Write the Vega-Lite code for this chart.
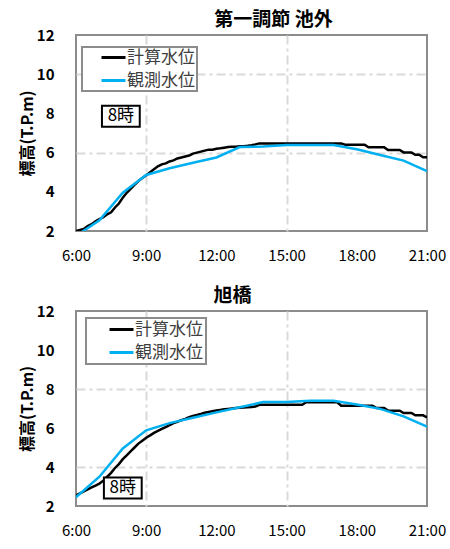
{
  "$schema": "https://vega.github.io/schema/vega-lite/v6.json",
  "background": "white",
  "padding": {"left": 18, "top": 10, "right": 5, "bottom": 5},
  "config": {
    "font": "Noto Sans CJK JP",
    "view": {"stroke": "#8c8c8c", "strokeWidth": 2},
    "title": {"fontSize": 19, "fontWeight": "bold", "color": "#000000", "offset": -2, "frame": "group"},
    "axis": {"domain": false, "ticks": false, "labelOverlap": false, "labelColor": "#000000", "titleColor": "#000000", "gridColor": "#d9d9d9", "gridWidth": 2, "gridDash": [9, 4, 3, 4]},
    "concat": {"spacing": 22}
  },
  "datasets": {
    "daiichi": [
      {"s": "計算水位", "m": 360, "v": 2.00}, {"s": "計算水位", "m": 370, "v": 2.05}, {"s": "計算水位", "m": 380, "v": 2.10},
      {"s": "計算水位", "m": 390, "v": 2.25}, {"s": "計算水位", "m": 400, "v": 2.35}, {"s": "計算水位", "m": 410, "v": 2.50},
      {"s": "計算水位", "m": 420, "v": 2.60}, {"s": "計算水位", "m": 430, "v": 2.70}, {"s": "計算水位", "m": 440, "v": 2.85},
      {"s": "計算水位", "m": 450, "v": 2.95}, {"s": "計算水位", "m": 460, "v": 3.20}, {"s": "計算水位", "m": 470, "v": 3.40},
      {"s": "計算水位", "m": 480, "v": 3.70}, {"s": "計算水位", "m": 490, "v": 3.95}, {"s": "計算水位", "m": 500, "v": 4.15},
      {"s": "計算水位", "m": 510, "v": 4.35}, {"s": "計算水位", "m": 520, "v": 4.55}, {"s": "計算水位", "m": 530, "v": 4.70},
      {"s": "計算水位", "m": 540, "v": 4.85}, {"s": "計算水位", "m": 550, "v": 5.00}, {"s": "計算水位", "m": 560, "v": 5.15},
      {"s": "計算水位", "m": 570, "v": 5.30}, {"s": "計算水位", "m": 580, "v": 5.40}, {"s": "計算水位", "m": 590, "v": 5.45},
      {"s": "計算水位", "m": 600, "v": 5.55}, {"s": "計算水位", "m": 610, "v": 5.60}, {"s": "計算水位", "m": 620, "v": 5.70},
      {"s": "計算水位", "m": 630, "v": 5.75}, {"s": "計算水位", "m": 640, "v": 5.80}, {"s": "計算水位", "m": 650, "v": 5.85},
      {"s": "計算水位", "m": 660, "v": 5.95}, {"s": "計算水位", "m": 670, "v": 6.00}, {"s": "計算水位", "m": 680, "v": 6.05},
      {"s": "計算水位", "m": 690, "v": 6.10}, {"s": "計算水位", "m": 700, "v": 6.15}, {"s": "計算水位", "m": 710, "v": 6.15},
      {"s": "計算水位", "m": 720, "v": 6.20}, {"s": "計算水位", "m": 730, "v": 6.22}, {"s": "計算水位", "m": 740, "v": 6.25},
      {"s": "計算水位", "m": 750, "v": 6.28}, {"s": "計算水位", "m": 760, "v": 6.30}, {"s": "計算水位", "m": 770, "v": 6.30},
      {"s": "計算水位", "m": 780, "v": 6.32}, {"s": "計算水位", "m": 790, "v": 6.33}, {"s": "計算水位", "m": 800, "v": 6.35},
      {"s": "計算水位", "m": 810, "v": 6.38}, {"s": "計算水位", "m": 820, "v": 6.42}, {"s": "計算水位", "m": 830, "v": 6.47},
      {"s": "計算水位", "m": 900, "v": 6.47}, {"s": "計算水位", "m": 960, "v": 6.47}, {"s": "計算水位", "m": 1040, "v": 6.47},
      {"s": "計算水位", "m": 1050, "v": 6.40}, {"s": "計算水位", "m": 1100, "v": 6.40}, {"s": "計算水位", "m": 1110, "v": 6.27},
      {"s": "計算水位", "m": 1150, "v": 6.27}, {"s": "計算水位", "m": 1160, "v": 6.13}, {"s": "計算水位", "m": 1190, "v": 6.13},
      {"s": "計算水位", "m": 1200, "v": 6.01}, {"s": "計算水位", "m": 1220, "v": 6.01}, {"s": "計算水位", "m": 1230, "v": 5.89},
      {"s": "計算水位", "m": 1240, "v": 5.89}, {"s": "計算水位", "m": 1250, "v": 5.76}, {"s": "計算水位", "m": 1260, "v": 5.76},
      {"s": "観測水位", "m": 360, "v": 1.75}, {"s": "観測水位", "m": 420, "v": 2.55}, {"s": "観測水位", "m": 480, "v": 3.95},
      {"s": "観測水位", "m": 540, "v": 4.86}, {"s": "観測水位", "m": 600, "v": 5.20}, {"s": "観測水位", "m": 660, "v": 5.48},
      {"s": "観測水位", "m": 720, "v": 5.75}, {"s": "観測水位", "m": 780, "v": 6.28}, {"s": "観測水位", "m": 840, "v": 6.31},
      {"s": "観測水位", "m": 900, "v": 6.39}, {"s": "観測水位", "m": 960, "v": 6.39}, {"s": "観測水位", "m": 1020, "v": 6.39},
      {"s": "観測水位", "m": 1080, "v": 6.17}, {"s": "観測水位", "m": 1140, "v": 5.88}, {"s": "観測水位", "m": 1200, "v": 5.59},
      {"s": "観測水位", "m": 1260, "v": 5.05}
    ],
    "asahi": [
      {"s": "計算水位", "m": 360, "v": 2.55}, {"s": "計算水位", "m": 370, "v": 2.65}, {"s": "計算水位", "m": 380, "v": 2.75},
      {"s": "計算水位", "m": 390, "v": 2.85}, {"s": "計算水位", "m": 400, "v": 2.95}, {"s": "計算水位", "m": 410, "v": 3.05},
      {"s": "計算水位", "m": 420, "v": 3.15}, {"s": "計算水位", "m": 430, "v": 3.30}, {"s": "計算水位", "m": 440, "v": 3.50},
      {"s": "計算水位", "m": 450, "v": 3.70}, {"s": "計算水位", "m": 460, "v": 3.95}, {"s": "計算水位", "m": 470, "v": 4.15},
      {"s": "計算水位", "m": 480, "v": 4.40}, {"s": "計算水位", "m": 490, "v": 4.60}, {"s": "計算水位", "m": 500, "v": 4.80},
      {"s": "計算水位", "m": 510, "v": 5.00}, {"s": "計算水位", "m": 520, "v": 5.20}, {"s": "計算水位", "m": 530, "v": 5.35},
      {"s": "計算水位", "m": 540, "v": 5.50}, {"s": "計算水位", "m": 550, "v": 5.62}, {"s": "計算水位", "m": 560, "v": 5.75},
      {"s": "計算水位", "m": 570, "v": 5.85}, {"s": "計算水位", "m": 580, "v": 5.95}, {"s": "計算水位", "m": 590, "v": 6.05},
      {"s": "計算水位", "m": 600, "v": 6.15}, {"s": "計算水位", "m": 610, "v": 6.25}, {"s": "計算水位", "m": 620, "v": 6.32},
      {"s": "計算水位", "m": 630, "v": 6.40}, {"s": "計算水位", "m": 640, "v": 6.47}, {"s": "計算水位", "m": 650, "v": 6.55},
      {"s": "計算水位", "m": 660, "v": 6.62}, {"s": "計算水位", "m": 670, "v": 6.67}, {"s": "計算水位", "m": 680, "v": 6.72},
      {"s": "計算水位", "m": 690, "v": 6.78}, {"s": "計算水位", "m": 700, "v": 6.82}, {"s": "計算水位", "m": 710, "v": 6.86},
      {"s": "計算水位", "m": 720, "v": 6.90}, {"s": "計算水位", "m": 730, "v": 6.93}, {"s": "計算水位", "m": 740, "v": 6.96},
      {"s": "計算水位", "m": 750, "v": 6.98}, {"s": "計算水位", "m": 760, "v": 7.00}, {"s": "計算水位", "m": 770, "v": 7.02},
      {"s": "計算水位", "m": 780, "v": 7.04}, {"s": "計算水位", "m": 790, "v": 7.05}, {"s": "計算水位", "m": 800, "v": 7.06},
      {"s": "計算水位", "m": 810, "v": 7.08}, {"s": "計算水位", "m": 820, "v": 7.10}, {"s": "計算水位", "m": 830, "v": 7.19},
      {"s": "計算水位", "m": 900, "v": 7.19}, {"s": "計算水位", "m": 940, "v": 7.19}, {"s": "計算水位", "m": 950, "v": 7.32},
      {"s": "計算水位", "m": 1030, "v": 7.32}, {"s": "計算水位", "m": 1040, "v": 7.14}, {"s": "計算水位", "m": 1120, "v": 7.14},
      {"s": "計算水位", "m": 1130, "v": 7.03}, {"s": "計算水位", "m": 1150, "v": 7.03}, {"s": "計算水位", "m": 1160, "v": 6.89},
      {"s": "計算水位", "m": 1190, "v": 6.89}, {"s": "計算水位", "m": 1200, "v": 6.77}, {"s": "計算水位", "m": 1220, "v": 6.77},
      {"s": "計算水位", "m": 1230, "v": 6.65}, {"s": "計算水位", "m": 1250, "v": 6.65}, {"s": "計算水位", "m": 1260, "v": 6.55},
      {"s": "観測水位", "m": 360, "v": 2.45}, {"s": "観測水位", "m": 420, "v": 3.50}, {"s": "観測水位", "m": 480, "v": 4.95},
      {"s": "観測水位", "m": 540, "v": 5.88}, {"s": "観測水位", "m": 600, "v": 6.25}, {"s": "観測水位", "m": 660, "v": 6.53},
      {"s": "観測水位", "m": 720, "v": 6.80}, {"s": "観測水位", "m": 780, "v": 7.06}, {"s": "観測水位", "m": 840, "v": 7.33},
      {"s": "観測水位", "m": 900, "v": 7.33}, {"s": "観測水位", "m": 960, "v": 7.40}, {"s": "観測水位", "m": 1020, "v": 7.40},
      {"s": "観測水位", "m": 1080, "v": 7.20}, {"s": "観測水位", "m": 1140, "v": 6.98}, {"s": "観測水位", "m": 1200, "v": 6.60},
      {"s": "観測水位", "m": 1260, "v": 6.07}
    ]
  },
  "resolve": {"scale": {"color": "independent"}, "legend": {"color": "independent"}},
  "vconcat": [
    {
      "width": 351,
      "height": 196,
      "title": {"text": "第一調節 池外", "dx": 22},
      "layer": [
        {
          "data": {"name": "daiichi"},
          "mark": {"type": "line", "strokeWidth": 2.5, "clip": true},
          "encoding": {
            "x": {"field": "m", "type": "quantitative", "scale": {"domain": [360, 1260], "nice": false},
              "axis": {"title": null, "values": [360, 540, 720, 900, 1080, 1260], "tickCount": 6, "labelExpr": "floor(datum.value / 60) + ':00'", "labelFontSize": 15, "labelPadding": 17, "labelFlush": false,
                "gridOpacity": {"condition": {"test": "datum.value == 540 || datum.value == 900", "value": 1}, "value": 0}}},
            "y": {"field": "v", "type": "quantitative", "scale": {"domain": [2, 12], "nice": false, "zero": false},
              "axis": {"title": "標高(T.P.m)", "titleFontSize": 16, "titleFontWeight": "bold", "titlePadding": 1, "values": [2, 4, 6, 8, 10, 12], "tickCount": 6, "labelOverlap": false, "labelFontSize": 15, "labelFontWeight": "bold", "labelPadding": 22,
                "gridOpacity": {"condition": {"test": "datum.value == 6 || datum.value == 10", "value": 1}, "value": 0}}},
            "color": {"field": "s", "type": "nominal", "scale": {"domain": ["計算水位", "観測水位"], "range": ["#000000", "#00b0f0"]},
              "legend": {"title": null, "orient": "none", "legendX": 6, "legendY": 12, "strokeColor": "#8c8c8c", "fillColor": "white", "padding": 2, "labelFontSize": 17, "labelColor": "#404040", "labelExpr": "datum.label + '\u2002\u2009'", "symbolType": "M-2,0H2", "symbolStrokeWidth": 3, "symbolSize": 144, "symbolOffset": 21, "labelOffset": 5, "rowPadding": 5,
                "encode": {"legend": {"update": {"strokeWidth": {"value": 2}}}}}}
          }
        },
        {
          "data": {"values": [{"m": 475, "v": 7.85, "label": "8時"}]},
          "mark": {"type": "point", "shape": "M-1.8,-1H1.8V1H-1.8Z", "size": 441, "filled": true, "fill": "white", "stroke": "black", "strokeWidth": 2, "opacity": 1},
          "encoding": {"x": {"field": "m", "type": "quantitative"}, "y": {"field": "v", "type": "quantitative"}}
        },
        {
          "data": {"values": [{"m": 475, "v": 7.85, "label": "8時"}]},
          "mark": {"type": "text", "fontSize": 17, "color": "#000000"},
          "encoding": {"x": {"field": "m", "type": "quantitative"}, "y": {"field": "v", "type": "quantitative"}, "text": {"field": "label"}}
        }
      ]
    },
    {
      "width": 351,
      "height": 195,
      "title": {"text": "旭橋", "dx": -19},
      "layer": [
        {
          "data": {"name": "asahi"},
          "mark": {"type": "line", "strokeWidth": 2.5, "clip": true},
          "encoding": {
            "x": {"field": "m", "type": "quantitative", "scale": {"domain": [360, 1260], "nice": false},
              "axis": {"title": null, "values": [360, 540, 720, 900, 1080, 1260], "tickCount": 6, "labelExpr": "floor(datum.value / 60) + ':00'", "labelFontSize": 15, "labelPadding": 17, "labelFlush": false,
                "gridOpacity": {"condition": {"test": "datum.value == 540 || datum.value == 900", "value": 1}, "value": 0}}},
            "y": {"field": "v", "type": "quantitative", "scale": {"domain": [2, 12], "nice": false, "zero": false},
              "axis": {"title": "標高(T.P.m)", "titleFontSize": 16, "titleFontWeight": "bold", "titlePadding": 1, "values": [2, 4, 6, 8, 10, 12], "tickCount": 6, "labelOverlap": false, "labelFontSize": 15, "labelFontWeight": "bold", "labelPadding": 22,
                "gridOpacity": {"condition": {"test": "datum.value == 4 || datum.value == 8", "value": 1}, "value": 0}}},
            "color": {"field": "s", "type": "nominal", "scale": {"domain": ["計算水位", "観測水位"], "range": ["#000000", "#00b0f0"]},
              "legend": {"title": null, "orient": "none", "legendX": 10, "legendY": 7, "strokeColor": "#8c8c8c", "fillColor": "white", "padding": 3, "labelFontSize": 17, "labelColor": "#404040", "labelExpr": "datum.label + '\u2002\u2009\u2009'", "symbolType": "M-2,0H2", "symbolStrokeWidth": 3, "symbolSize": 144, "symbolOffset": 24, "labelOffset": 5, "rowPadding": 5,
                "encode": {"legend": {"update": {"strokeWidth": {"value": 2}}}}}}
          }
        },
        {
          "data": {"values": [{"m": 480, "v": 2.92, "label": "8時"}]},
          "mark": {"type": "point", "shape": "M-1.8,-1H1.8V1H-1.8Z", "size": 441, "filled": true, "fill": "white", "stroke": "black", "strokeWidth": 2, "opacity": 1},
          "encoding": {"x": {"field": "m", "type": "quantitative"}, "y": {"field": "v", "type": "quantitative"}}
        },
        {
          "data": {"values": [{"m": 480, "v": 2.92, "label": "8時"}]},
          "mark": {"type": "text", "fontSize": 17, "color": "#000000"},
          "encoding": {"x": {"field": "m", "type": "quantitative"}, "y": {"field": "v", "type": "quantitative"}, "text": {"field": "label"}}
        }
      ]
    }
  ]
}
